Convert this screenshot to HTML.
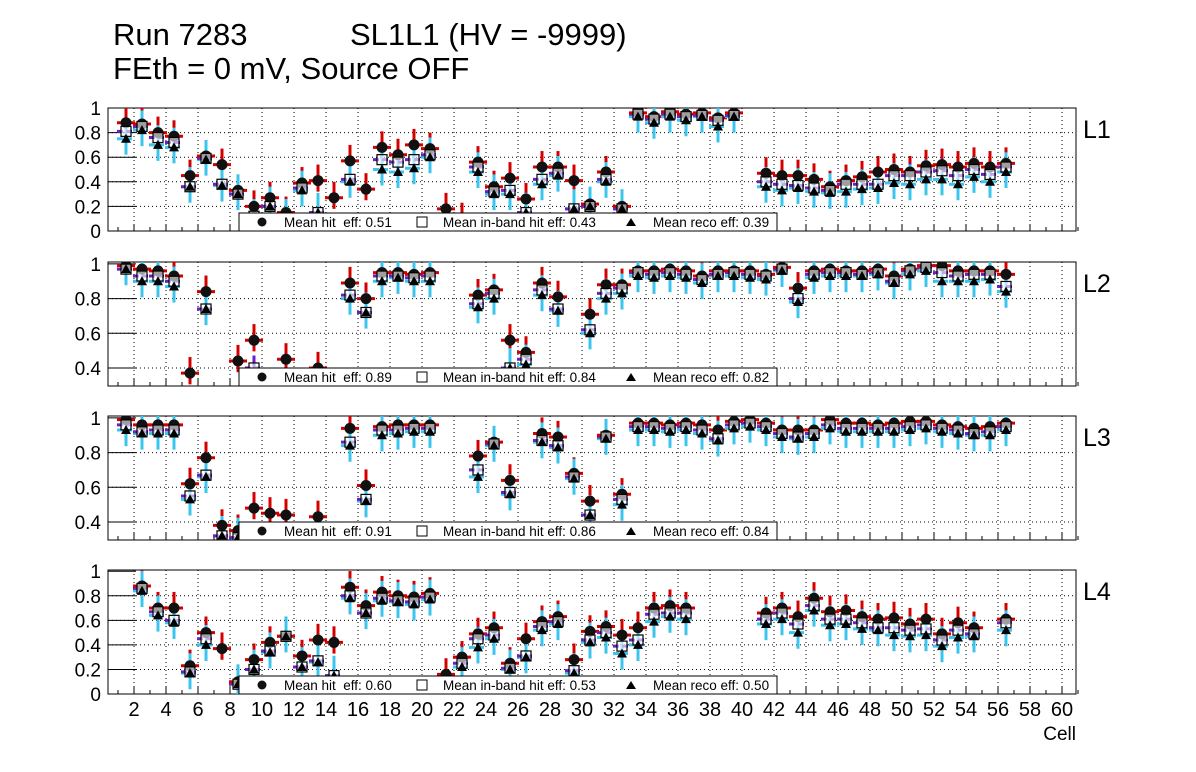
<!DOCTYPE html>
<html><head><meta charset="utf-8"><style>
body{margin:0;background:#fff;}
svg{display:block;font-family:"Liberation Sans",sans-serif;}
text{white-space:pre;}
</style></head><body>
<svg id="c" width="1196" height="772">
<text x="113" y="45" font-size="31">Run 7283</text>
<text x="350" y="45" font-size="31">SL1L1 (HV = -9999)</text>
<text x="113" y="79" font-size="31">FEth = 0 mV, Source OFF</text>
<text x="1076" y="740" font-size="19" text-anchor="end">Cell</text>
</svg>
<script>
const N=null;
const layerNames=["L1","L2","L3","L4"];
const meanHit=["0.51","0.89","0.91","0.60"];
const meanBand=["0.43","0.84","0.86","0.53"];
const meanReco=["0.39","0.82","0.84","0.50"];
const yTicksFull=[0,0.2,0.4,0.6,0.8,1];
const yTicksZoom=[0.4,0.6,0.8,1];
const xTicks=[2,4,6,8,10,12,14,16,18,20,22,24,26,28,30,32,34,36,38,40,42,44,46,48,50,52,54,56,58,60];
// values per cell 1..56
const hitL1=[.88,.87,.80,.77,.45,.61,.54,.33,.20,.27,.15,.39,.41,.27,.57,.34,.68,.62,.70,.67,.18,.10,.56,.36,.43,.26,.52,.52,.41,.22,.48,.20,.96,.93,.97,.95,.96,.92,.96,N,.47,.45,.45,.42,.36,.41,.44,.48,.50,.48,.53,.54,.52,.55,.52,.55];
const bandL1=[.81,.85,.76,.72,.36,.59,.38,.30,.12,.20,.10,.35,.15,N,.42,N,.58,.56,.58,.62,N,N,.52,.32,.33,.15,.42,.47,.18,.20,.42,.18,.95,.91,.95,.93,.94,.90,.94,N,.40,.38,.37,.35,.33,.38,.38,.38,.45,.45,.48,.49,.45,.50,.46,.52];
const recoL1=[.75,.82,.70,.68,.36,.58,.37,.30,.10,.20,.10,.33,.15,N,.40,N,.50,.48,.51,.60,N,N,.48,.30,.30,.15,.38,.45,.18,.20,.40,.18,.93,.88,.93,.90,.93,.85,.93,N,.36,.33,.35,.32,.31,.32,.34,.35,.39,.38,.42,.42,.38,.44,.40,.48];
const hitL2=[.99,.97,.96,.93,.37,.84,N,.44,.56,N,.45,N,.40,N,.89,.80,.95,.95,.94,.95,N,N,.82,.85,.56,.49,.89,.81,N,.71,.88,.88,.96,.96,.97,.96,.93,.96,.96,.96,.94,.98,.86,.96,.97,.96,.96,.97,.93,.97,.99,.99,.96,.96,.96,.94];
const bandL2=[.97,.93,.93,.90,N,.74,N,N,.40,N,N,N,N,N,.82,.72,.93,.93,.92,.93,N,N,.77,.83,.40,.45,.85,.74,N,.62,.83,.86,.95,.94,.95,.94,.91,.94,.95,.94,.93,.97,.80,.94,.95,.95,.94,.95,.90,.96,.98,.95,.93,.94,.94,.87];
const recoL2=[.97,.90,.90,.87,N,.74,N,N,N,N,N,N,N,N,.80,.72,.90,.92,.90,.90,N,N,.75,.80,.40,.42,.82,.73,N,.60,.80,.83,.93,.92,.93,.92,.89,.93,.93,.92,.91,.96,.78,.92,.93,.93,.93,.94,.89,.94,.96,.90,.90,.90,.91,.84];
const hitL3=[.99,.96,.96,.96,.62,.77,.38,.35,.48,.45,.44,N,.43,N,.94,.61,.95,.96,.96,.96,N,N,.78,.86,.64,N,.91,.89,.68,.52,.90,.56,.97,.97,.96,.97,.96,.93,.98,.99,.97,.93,.93,.93,.99,.97,.97,.96,.97,.98,.98,.96,.95,.94,.95,.97];
const bandL3=[.96,.92,.93,.93,.55,.67,.32,.31,N,N,N,N,N,N,.86,.53,.93,.93,.94,.94,N,N,.70,.85,.57,N,.87,.84,.66,.44,.89,.53,.95,.95,.94,.95,.93,.88,.96,.97,.95,.91,.89,.91,.96,.94,.94,.94,.94,.95,.96,.94,.93,.91,.92,.95];
const recoL3=[.93,.91,.91,.91,.53,.66,.32,.31,N,N,N,N,N,N,.84,.52,.90,.91,.92,.92,N,N,.66,.84,.56,N,.86,.83,.65,.44,.88,.50,.93,.93,.92,.93,.91,.87,.94,.95,.93,.89,.88,.89,.94,.92,.92,.92,.92,.93,.94,.92,.91,.90,.90,.93];
const hitL4=[N,.88,.70,.70,.23,.50,.37,.10,.28,.42,.47,.31,.44,.42,.87,.72,.83,.80,.79,.82,.16,.30,.49,.54,.25,.45,.59,.63,.28,.51,.55,.48,.54,.70,.72,.70,N,N,N,N,.66,.70,.63,.78,.67,.68,.63,.61,.62,.57,.61,.49,.58,.54,N,.61];
const bandL4=[N,.86,.67,.60,.18,.45,N,.08,.20,.35,.47,.22,.27,.15,.80,.66,.78,.76,.75,.79,N,.25,.45,.48,.21,.31,.55,.59,.19,.44,.50,.39,.44,.65,.66,.66,N,N,N,N,.61,.66,.57,.72,.61,.61,.58,.54,.54,.52,.53,.44,.52,.49,N,.58];
const recoL4=[N,.84,.64,.58,.17,.40,N,.08,.20,.34,.47,.22,.26,.15,.78,.66,.76,.75,.73,.77,N,.22,.38,.45,.20,.30,.52,.57,.17,.42,.46,.33,.40,.59,.63,.61,N,N,N,N,.57,.61,.50,.68,.56,.57,.53,.52,.48,.47,.48,.39,.46,.47,N,.52];
const hitAll=[hitL1,hitL2,hitL3,hitL4], bandAll=[bandL1,bandL2,bandL3,bandL4], recoAll=[recoL1,recoL2,recoL3,recoL4];

const svg=document.getElementById('c');
const NS="http://www.w3.org/2000/svg";
function mk(tag,attrs,parent){const e=document.createElementNS(NS,tag);for(const k in attrs)e.setAttribute(k,attrs[k]);(parent||svg).appendChild(e);return e;}
const X0=108,X1=1076;
function xScale(v){return 134+(v-2)*16;}
const panels=[{top:108,bot:231,ymin:0,ymax:1,ticks:yTicksFull},{top:262,bot:386,ymin:0.296,ymax:1.011,ticks:yTicksZoom},{top:416,bot:540,ymin:0.296,ymax:1.011,ticks:yTicksZoom},{top:570,bot:694,ymin:0,ymax:1.01,ticks:yTicksFull}];
panels.forEach((p,pi)=>{
  const k=(p.ymax-p.ymin);
  const y=v=>p.bot-(v-p.ymin)/k*(p.bot-p.top);
  const g=mk('g',{});
  
  
  const cp=mk('clipPath',{id:'cp'+pi},g);mk('rect',{x:X0,y:p.top,width:X1-X0,height:p.bot-p.top},cp);
  xTicks.forEach(t=>{const l=mk('line',{x1:xScale(t),x2:xScale(t),y1:p.top,y2:p.bot,stroke:'#000','stroke-width':1,'stroke-dasharray':'1,3'},g);
    
    mk('line',{x1:xScale(t),x2:xScale(t),y1:p.bot,y2:p.bot-7,stroke:'#000'},g);});
  for(let c=1;c<=61;c++){mk('line',{x1:xScale(c),x2:xScale(c),y1:p.bot,y2:p.bot-4,stroke:'#000'},g);}
  p.ticks.forEach(t=>{const yy=y(t);
    if(t>p.ymin+0.01&&t<p.ymax-0.02){const l=mk('line',{x1:X0,x2:X1,y1:yy,y2:yy,stroke:'#000','stroke-dasharray':'1,3'},g);
      }
    mk('line',{x1:X0,x2:X0+28,y1:yy,y2:yy,stroke:'#000'},g);
    const tx=mk('text',{x:101,y:yy+7,'font-size':19,'text-anchor':'end'},g);tx.textContent=String(t);
    });
  const fr=mk('rect',{x:X0,y:p.top,width:X1-X0,height:p.bot-p.top,fill:'none',stroke:'#000','stroke-width':1},g);
  
  const lb=mk('text',{x:1083,y:p.top+30,'font-size':25},g);lb.textContent=layerNames[pi];
  
  const m=mk('g',{'clip-path':'url(#cp'+pi+')'},g);
  const H=hitAll[pi],B=bandAll[pi],R=recoAll[pi];
  const s=k; // scale errors with panel range
  for(let i=0;i<56;i++){const cx=xScale(i+1.5);
    if(H[i]!==null){mk('line',{x1:cx,x2:cx,y1:y(H[i]+0.13*s),y2:y(H[i]-0.09*s),stroke:'#d40000','stroke-width':3},m);}
    if(B[i]!==null){mk('line',{x1:cx,x2:cx,y1:y(B[i]+0.1*s),y2:y(B[i]-0.07*s),stroke:'#6a1ecc','stroke-width':3},m);}
    if(R[i]!==null){mk('line',{x1:cx,x2:cx,y1:y(R[i]+0.16*s),y2:y(R[i]-0.13*s),stroke:'#3cc4f0','stroke-width':3},m);
      mk('line',{x1:cx-9,x2:cx+9,y1:y(R[i]),y2:y(R[i]),stroke:'#3cc4f0','stroke-width':3,'stroke-dasharray':'6,3'},m);}
    if(B[i]!==null){mk('line',{x1:cx-9,x2:cx+9,y1:y(B[i]),y2:y(B[i]),stroke:'#6a1ecc','stroke-width':3,'stroke-dasharray':'6,3'},m);}
    if(H[i]!==null){mk('line',{x1:cx-9,x2:cx+9,y1:y(H[i]),y2:y(H[i]),stroke:'#d40000','stroke-width':3},m);
      const c=mk('circle',{cx:cx,cy:y(H[i]),r:5.5,fill:'#111'},m);
      }
    if(B[i]!==null){const sq=mk('rect',{x:cx-5,y:y(B[i])-5,width:10,height:10,fill:'#fff','fill-opacity':0.6,stroke:'#000','stroke-width':1.2},m);
      }
    if(R[i]!==null){const yy=y(R[i]);const t=mk('polygon',{points:`${cx-5},${yy+4} ${cx+5},${yy+4} ${cx},${yy-5}`,fill:'#000'},m);
      }
  }
  const lg=mk('g',{},g);
  const ly=p.bot-18;
  mk('rect',{x:239,y:ly,width:538,height:18,fill:'#fff',stroke:'#000'},lg);
  mk('circle',{cx:262,cy:ly+9,r:4.5,fill:'#111'},lg);
  let t=mk('text',{x:284,y:ly+14,'font-size':13.5},lg);t.textContent='Mean hit  eff: '+meanHit[pi];
  mk('rect',{x:417,y:ly+4,width:10,height:10,fill:'#fff',stroke:'#000'},lg);
  t=mk('text',{x:443,y:ly+14,'font-size':13.5},lg);t.textContent='Mean in-band hit eff: '+meanBand[pi];
  mk('polygon',{points:`626,${ly+13} 636,${ly+13} 631,${ly+5}`,fill:'#000'},lg);
  t=mk('text',{x:653,y:ly+14,'font-size':13.5},lg);t.textContent='Mean reco eff: '+meanReco[pi];
});
xTicks.forEach(t=>{const tx=mk('text',{x:xScale(t),y:716,'font-size':20,'text-anchor':'middle'});tx.textContent=String(t);
  });
</script>
</body></html>
